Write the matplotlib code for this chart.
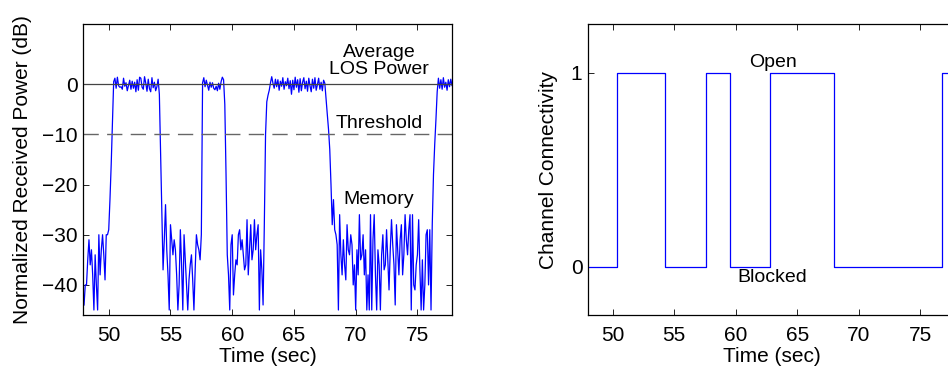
import matplotlib.pyplot as plt
import numpy as np

plt.rcParams['font.family'] = ['Liberation Sans', 'DejaVu Sans']
plt.rcParams['font.size'] = 15

# received power, one sample every 0.1 s from 48.0 s to 78.0 s
time = np.round(np.arange(480, 781) / 10.0, 1)
power = [
    -44, -40, -40, -35, -31, -36, -33, -38, -45, -34,          # 48
    -40, -45, -30, -38, -33, -30, -34, -39, -30, -30,          # 49
    -29, -23, -16, -8, 0.5, 1.2, -0.8, 1.4, -0.3, -0.6,        # 50
    -0.5, -1.0, 1.2, -0.4, 0.3, -1.3, -0.2, 0.8, -1.0, 0.6,    # 51
    -0.8, 0.4, -1.5, 0.9, -1.2, 1.4, 1.2, -0.6, -1.0, 1.5,     # 52
    0.2, -1.4, 1.0, -0.9, -1.5, 1.3, -0.7, 0.4, -1.3, -0.5,    # 53
    1.0, -2, -14, -27, -37, -31, -24, -33, -38, -45,           # 54
    -28, -31, -34, -31, -33, -38, -45, -40, -29, -36,          # 55
    -45, -30, -35, -40, -45, -39, -36, -34, -39, -45,          # 56
    -37, -30, -32, -33, -35, -30, 0.3, 1.3, -0.5, 0.8,         # 57
    -0.2, -1.2, 0.4, -0.6, 0.3, -0.8, -1.1, -0.4, -1.3, 0.2,   # 58
    -1.0, 0.5, 1.4, 0.9, -4, -18, -34, -38, -45, -32,          # 59
    -30, -42, -38, -35, -36, -30, -29, -33, -31, -34,          # 60
    -37, -36, -27, -38, -33, -28, -35, -33, -27, -33,          # 61
    -30, -28, -45, -33, -37, -44, -28, -10, -3.5, -2.2,        # 62
    -1.2, 0.3, 1.5, 0.2, -0.8, 1.0, -0.5, 0.9, -1.2, 0.6,      # 63
    -0.4, 1.3, -1.0, 0.5, -0.3, 1.2, -0.9, 0.7, -2.0, 0.8,     # 64
    -1.1, 1.4, -0.6, 0.9, -1.6, 1.1, -1.3, 0.4, 1.3, -0.9,     # 65
    0.6, -1.4, 1.2, -0.3, -1.5, 1.0, -0.8, 1.3, -1.2, -0.1,    # 66
    1.2, -1.0, 0.4, -1.3, 0.8, 0.2, -3, -6, -9, -13,           # 67
    -20, -28, -23, -29, -30, -32, -45, -26, -34, -38,          # 68
    -31, -36, -39, -28, -33, -34, -30, -32, -40, -36,          # 69
    -45, -33, -38, -26, -35, -34, -30, -38, -33, -45,          # 70
    -38, -45, -26, -45, -31, -26, -38, -45, -33, -36,          # 71
    -45, -34, -30, -37, -36, -29, -35, -41, -33, -27,          # 72
    -32, -36, -44, -28, -33, -38, -31, -28, -38, -34,          # 73
    -26, -31, -34, -29, -26, -45, -26, -40, -41, -36,          # 74
    -34, -27, -37, -45, -35, -45, -40, -30, -29, -40,          # 75
    -29, -45, -28, -18, -12, -7, -1.5, 1.2, -0.8, 0.9,         # 76
    -1.0, 1.3, -0.6, 0.4, -1.2, 0.9, -0.5, 1.0, -0.3, 1.4,     # 77
    1.2,                                                       # 78
]
avg_los = 0
threshold = -10

# channel state changes (open = 1, blocked = 0)
switch_times = [48.0, 50.33, 54.26, 57.59, 59.5, 62.8, 67.97, 76.8, 78.0]
state = [0, 1, 0, 1, 0, 1, 0, 1, 1]

fig = plt.figure(figsize=(9.48, 3.69), dpi=100)

ax1 = fig.add_axes([0.0876, 0.1463, 0.3892, 0.7886])
ax1.plot(time, power, color='#0000ff', lw=0.9)
ax1.axhline(avg_los, color='#444444', lw=0.9)
ax1.axhline(threshold, color='#666666', lw=1.0, dashes=(11, 6))
ax1.set_xlim(47.92, 77.8)
ax1.set_ylim(-46, 12)
ax1.set_xticks([50, 55, 60, 65, 70, 75])
ax1.set_yticks([0, -10, -20, -30, -40])
ax1.set_yticklabels(['0', '\u221210', '\u221220', '\u221230', '\u221240'])
ax1.set_xlabel('Time (sec)', labelpad=1)
ax1.set_ylabel('Normalized Received Power (dB)', labelpad=7)
ax1.text(71.9, 4.6, 'Average\nLOS Power', ha='center', va='center',
         linespacing=1.0, fontsize=14)
ax1.text(71.9, -7.8, 'Threshold', ha='center', va='center', fontsize=14)
ax1.text(71.9, -22.9, 'Memory', ha='center', va='center', fontsize=14)

ax2 = fig.add_axes([0.6203, 0.1463, 0.388, 0.7886])
ax2.step(switch_times, state, where='post', color='#0000ff', lw=0.9)
ax2.set_xlim(48.0, 77.9)
ax2.set_ylim(-0.25, 1.25)
ax2.set_xticks([50, 55, 60, 65, 70, 75])
ax2.set_yticks([0, 1])
ax2.set_xlabel('Time (sec)', labelpad=1)
ax2.set_ylabel('Channel Connectivity', labelpad=9)
ax2.text(63.0, 1.053, 'Open', ha='center', va='center', fontsize=14)
ax2.text(63.0, -0.055, 'Blocked', ha='center', va='center', fontsize=14)

for ax in (ax1, ax2):
    ax.tick_params(direction='in', top=True, right=True, length=4,
                   width=0.6)
    ax.tick_params(axis='x', pad=8)
    ax.tick_params(axis='y', pad=4)
    for s in ax.spines.values():
        s.set_linewidth(0.9)

fig.savefig('out.png', dpi=100)
